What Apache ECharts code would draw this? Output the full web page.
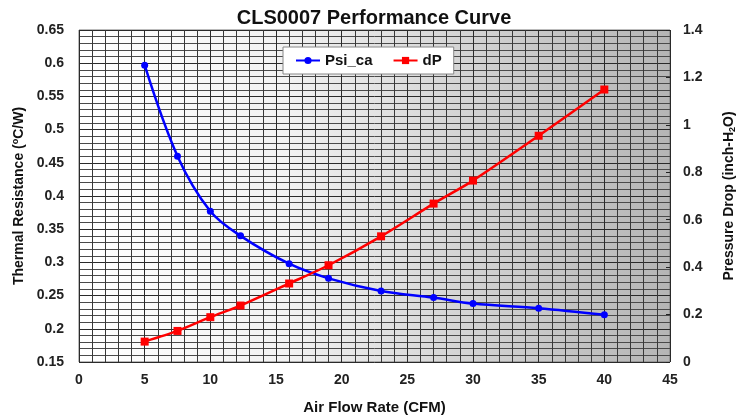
<!DOCTYPE html>
<html>
<head>
<meta charset="utf-8">
<script src="https://cdn.jsdelivr.net/npm/echarts@6/dist/echarts.min.js"></script>
<style>
html,body{margin:0;padding:0;background:#fff;}
#chart{width:748px;height:420px;}
</style>
</head>
<body>
<div id="chart"></div>
<script>
const airFlow = [5, 7.5, 10, 12.3, 16, 19, 23, 27, 30, 35, 40];
const psiCa = [0.597, 0.46, 0.377, 0.34, 0.298, 0.276, 0.257, 0.247, 0.238, 0.231, 0.221];
const dP = [0.086, 0.131, 0.189, 0.238, 0.331, 0.408, 0.53, 0.668, 0.765, 0.954, 1.149];

const FONT = '"Liberation Sans", Arial, sans-serif';
const chart = echarts.init(document.getElementById('chart'));
const labelStyle = {color: '#222', fontWeight: 'bold', fontSize: 14, fontFamily: FONT};
const nameStyle = {fontSize: 14, fontWeight: 'bold', color: '#111', fontFamily: FONT};

chart.setOption({
  animation: false,
  title: {
    text: 'CLS0007 Performance Curve',
    left: 'center', top: 3,
    textStyle: {fontSize: 20, fontWeight: 'bold', color: '#111', fontFamily: FONT}
  },
  legend: {
    left: 283, top: 47,
    backgroundColor: '#fff', borderColor: '#888', borderWidth: 1,
    padding: [6, 12, 6, 12],
    itemGap: 20, itemWidth: 24, itemHeight: 9,
    textStyle: {fontSize: 15, fontWeight: 'bold', color: '#111', fontFamily: FONT},
    data: ['Psi_ca', 'dP']
  },
  grid: {
    left: 79, right: 78, top: 30, bottom: 55,
    show: true, borderColor: '#777', borderWidth: 1,
    backgroundColor: new echarts.graphic.LinearGradient(0, 0, 1, 0, [
      {offset: 0, color: '#ffffff'},
      {offset: 0.35, color: '#f2f2f2'},
      {offset: 0.7, color: '#cfcfcf'},
      {offset: 1, color: '#b5b5b5'}
    ])
  },
  xAxis: {
    type: 'value', min: 0, max: 45, interval: 5,
    name: 'Air Flow Rate (CFM)', nameLocation: 'middle', nameGap: 38,
    nameTextStyle: Object.assign({}, nameStyle, {fontSize: 15}),
    axisLine: {show: false},
    axisTick: {show: false},
    axisLabel: Object.assign({margin: 11}, labelStyle),
    splitLine: {show: true, lineStyle: {color: '#2a2a2a', width: 1}},
    minorTick: {show: false, splitNumber: 5},
    minorSplitLine: {show: true, lineStyle: {color: '#383838', width: 1}}
  },
  yAxis: [
    {
      type: 'value', min: 0.15, max: 0.65, interval: 0.05,
      name: 'Thermal Resistance ({sup|o}C/W)', nameLocation: 'middle', nameGap: 50,
      nameTextStyle: Object.assign({}, nameStyle, {
        rich: {sup: {fontSize: 9, fontWeight: 'bold', color: '#111', fontFamily: FONT, padding: [0, 0, 7, 0]}}}),
      axisLine: {show: false},
      axisTick: {show: false},
      axisLabel: Object.assign({margin: 15}, labelStyle),
      splitLine: {show: true, lineStyle: {color: '#2a2a2a', width: 1}},
      minorTick: {show: false, splitNumber: 5},
      minorSplitLine: {show: true, lineStyle: {color: '#4a4a4a', width: 1}}
    },
    {
      type: 'value', min: 0, max: 1.4, interval: 0.2,
      name: 'Pressure Drop (inch-H{sub|2}O)', nameLocation: 'middle', nameGap: 52,
      nameRotate: 90,
      nameTextStyle: Object.assign({}, nameStyle, {
        rich: {sub: {fontSize: 9, fontWeight: 'bold', color: '#111', fontFamily: FONT, padding: [6, 0, 0, 0]}}}),
      axisLine: {show: false},
      axisTick: {show: true, inside: true, length: 4, lineStyle: {color: '#222'}},
      axisLabel: Object.assign({margin: 13}, labelStyle),
      splitLine: {show: false}
    }
  ],
  series: [
    {
      name: 'Psi_ca', type: 'line', yAxisIndex: 0,
      data: airFlow.map((x, i) => [x, psiCa[i]]),
      smooth: 0.35,
      symbol: 'circle', symbolSize: 7,
      lineStyle: {color: '#0000ff', width: 2.5},
      itemStyle: {color: '#0000ff'}
    },
    {
      name: 'dP', type: 'line', yAxisIndex: 1,
      data: airFlow.map((x, i) => [x, dP[i]]),
      smooth: 0.25,
      symbol: 'rect', symbolSize: 8,
      lineStyle: {color: '#ff0000', width: 2.5},
      itemStyle: {color: '#ff0000'}
    }
  ]
});
</script>
</body>
</html>
